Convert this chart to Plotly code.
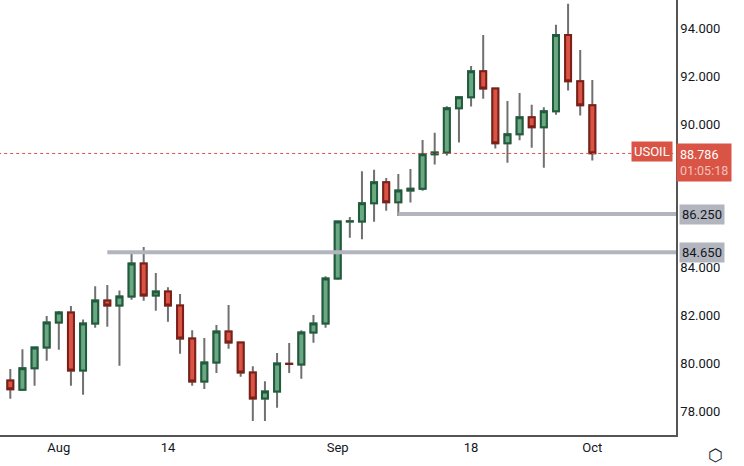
import plotly.graph_objects as go

DATES = ['Jul 26', 'Jul 27', 'Jul 28', 'Jul 31', 'Aug 1', 'Aug 2', 'Aug 3', 'Aug 4', 'Aug 7', 'Aug 8',
         'Aug 9', 'Aug 10', 'Aug 11', 'Aug 14', 'Aug 15', 'Aug 16', 'Aug 17', 'Aug 18', 'Aug 21', 'Aug 22',
         'Aug 23', 'Aug 24', 'Aug 25', 'Aug 28', 'Aug 29', 'Aug 30', 'Aug 31', 'Sep 1', 'Sep 4', 'Sep 5',
         'Sep 6', 'Sep 7', 'Sep 8', 'Sep 11', 'Sep 12', 'Sep 13', 'Sep 14', 'Sep 15', 'Sep 18', 'Sep 19',
         'Sep 20', 'Sep 21', 'Sep 22', 'Sep 25', 'Sep 26', 'Sep 27', 'Sep 28', 'Sep 29', 'Oct 2']
OPEN = [79.28, 78.89, 79.79, 80.66, 81.71, 82.13, 79.70, 81.67, 82.63, 82.42,
        82.80, 84.18, 82.84, 83.01, 82.42, 81.04, 79.24, 80.04, 81.33, 80.87,
        79.62, 78.53, 78.82, 79.98, 79.95, 81.29, 81.67, 83.55, 85.94, 85.94,
        86.70, 87.58, 86.74, 87.24, 87.31, 88.75, 88.83, 90.68, 91.14, 92.23,
        91.51, 89.21, 89.59, 90.30, 89.88, 90.55, 93.74, 91.81, 90.80]
CLOSE = [78.91, 79.79, 80.66, 81.71, 82.13, 79.70, 81.67, 82.63, 82.42, 82.80,
         84.18, 82.84, 83.01, 82.42, 81.04, 79.24, 80.04, 81.33, 80.87, 79.62,
         78.53, 78.82, 79.99, 79.97, 81.29, 81.67, 83.55, 85.94, 85.95, 86.70,
         87.58, 86.74, 87.24, 87.31, 88.75, 88.83, 90.68, 91.14, 92.23, 91.51,
         89.21, 89.59, 90.30, 89.88, 90.55, 93.74, 91.81, 90.80, 88.79]
HIGH = [79.76, 80.59, 80.66, 81.98, 82.19, 82.40, 81.84, 83.23, 83.28, 83.05,
        84.64, 84.87, 83.78, 83.18, 82.90, 81.39, 81.06, 81.60, 82.44, 80.87,
        79.88, 79.25, 80.43, 80.85, 81.39, 82.02, 83.65, 85.98, 86.13, 88.04,
        88.10, 87.76, 87.93, 88.14, 89.35, 89.65, 90.76, 91.19, 92.45, 93.75,
        91.51, 90.98, 91.32, 90.82, 90.72, 94.17, 95.05, 93.12, 91.86]
LOW = [78.52, 78.85, 79.06, 80.11, 80.57, 79.06, 78.68, 81.49, 81.53, 79.90,
       82.66, 82.62, 82.20, 81.74, 80.40, 79.06, 78.93, 79.60, 80.61, 79.44,
       77.59, 77.59, 78.14, 79.60, 79.35, 80.86, 81.49, 83.50, 85.26, 85.19,
       85.93, 86.39, 86.17, 86.73, 87.23, 88.32, 88.70, 89.24, 90.75, 91.08,
       88.99, 88.40, 89.34, 89.03, 88.19, 90.41, 91.42, 90.37, 88.49]

TICK_DATES = ['Aug 1', 'Aug 14', 'Sep 1', 'Sep 18', 'Oct 2']
TICK_TEXT = ['Aug', '14', 'Sep', '18', 'Oct']
# 86 and 88 sit behind the price labels, so they are left out
Y_TICKS = [78, 80, 82, 84, 90, 92, 94]

LAST_PRICE = 88.786
COUNTDOWN = '01:05:18'
LEVELS = [86.25, 84.65]
LEVEL_STARTS = ['Sep 8', 'Aug 7']

GREEN = '#6ca784'
GREEN_EDGE = '#1f5c3c'
RED = '#d95445'
RED_EDGE = '#7c1f17'
WICK = '#707070'
LEVEL_COLOR = '#b2b5be'
FONT = 'Roboto, Arial, sans-serif'

x = list(range(len(DATES)))
body_hi = [max(o, c) for o, c in zip(OPEN, CLOSE)]
body_lo = [min(o, c) for o, c in zip(OPEN, CLOSE)]

fig = go.Figure()
# wicks
fig.add_trace(go.Candlestick(x=x, open=OPEN, high=HIGH, low=LOW, close=CLOSE,
                             increasing=dict(line=dict(color=WICK, width=2), fillcolor=GREEN),
                             decreasing=dict(line=dict(color=WICK, width=2), fillcolor=RED),
                             whiskerwidth=0, hoverinfo='skip', showlegend=False))
# bodies
fig.add_trace(go.Candlestick(x=x, open=OPEN, high=body_hi, low=body_lo, close=CLOSE,
                             increasing=dict(line=dict(color=GREEN_EDGE, width=2), fillcolor=GREEN),
                             decreasing=dict(line=dict(color=RED_EDGE, width=2), fillcolor=RED),
                             whiskerwidth=0, showlegend=False))

x_end = len(DATES) + 5.9
for level, start in zip(LEVELS, LEVEL_STARTS):
    fig.add_shape(type='line', x0=DATES.index(start), x1=x_end, y0=level, y1=level,
                  line=dict(color=LEVEL_COLOR, width=4))
    fig.add_annotation(x=1, xref='paper', xanchor='left', y=level, text=f'{level:.3f}',
                       showarrow=False, bgcolor=LEVEL_COLOR, borderpad=2,
                       font=dict(family=FONT, size=13, color='#131722'), xshift=3)

fig.add_shape(type='line', x0=-1, x1=x_end, y0=LAST_PRICE, y1=LAST_PRICE,
              line=dict(color=RED, width=1, dash='dot'))
fig.add_annotation(x=1, xref='paper', xanchor='right', y=LAST_PRICE, yanchor='bottom', yshift=-9,
                   text='USOIL', showarrow=False, bgcolor=RED, borderpad=2, xshift=-3,
                   font=dict(family=FONT, size=13, color='white'))
fig.add_annotation(x=1, xref='paper', xanchor='left', y=LAST_PRICE, yanchor='top', yshift=10,
                   text=f'{LAST_PRICE:.3f}<br><span style="color:#f3c1bb">{COUNTDOWN}</span>',
                   align='left', showarrow=False, bgcolor=RED, borderpad=3,
                   font=dict(family=FONT, size=12.5, color='white'))
fig.add_annotation(x=1, xref='paper', xanchor='left', y=0, yref='paper', yanchor='top', yshift=-6,
                   xshift=30, text='⬡', showarrow=False, font=dict(size=17, color='#131722'))

fig.update_xaxes(range=[-0.85, x_end], tickvals=[DATES.index(d) for d in TICK_DATES], ticktext=TICK_TEXT,
                 showgrid=False, zeroline=False, showline=True, linecolor='#555', linewidth=1.5,
                 ticks='', rangeslider_visible=False,
                 tickfont=dict(family=FONT, size=13, color='#131722'))
fig.update_yaxes(side='right', range=[77.0, 95.21], tickvals=Y_TICKS,
                 ticktext=[f'{v:.3f}' for v in Y_TICKS], showgrid=False, zeroline=False,
                 showline=True, linecolor='#555', linewidth=1.5, ticks='',
                 tickfont=dict(family=FONT, size=13, color='#131722'))
fig.update_layout(width=744, height=466, margin=dict(l=0, r=68, t=0, b=31),
                  plot_bgcolor='white', paper_bgcolor='white', showlegend=False)

fig.write_html('out.html', config={'displayModeBar': False},
               post_script="document.body.style.margin='0';")
